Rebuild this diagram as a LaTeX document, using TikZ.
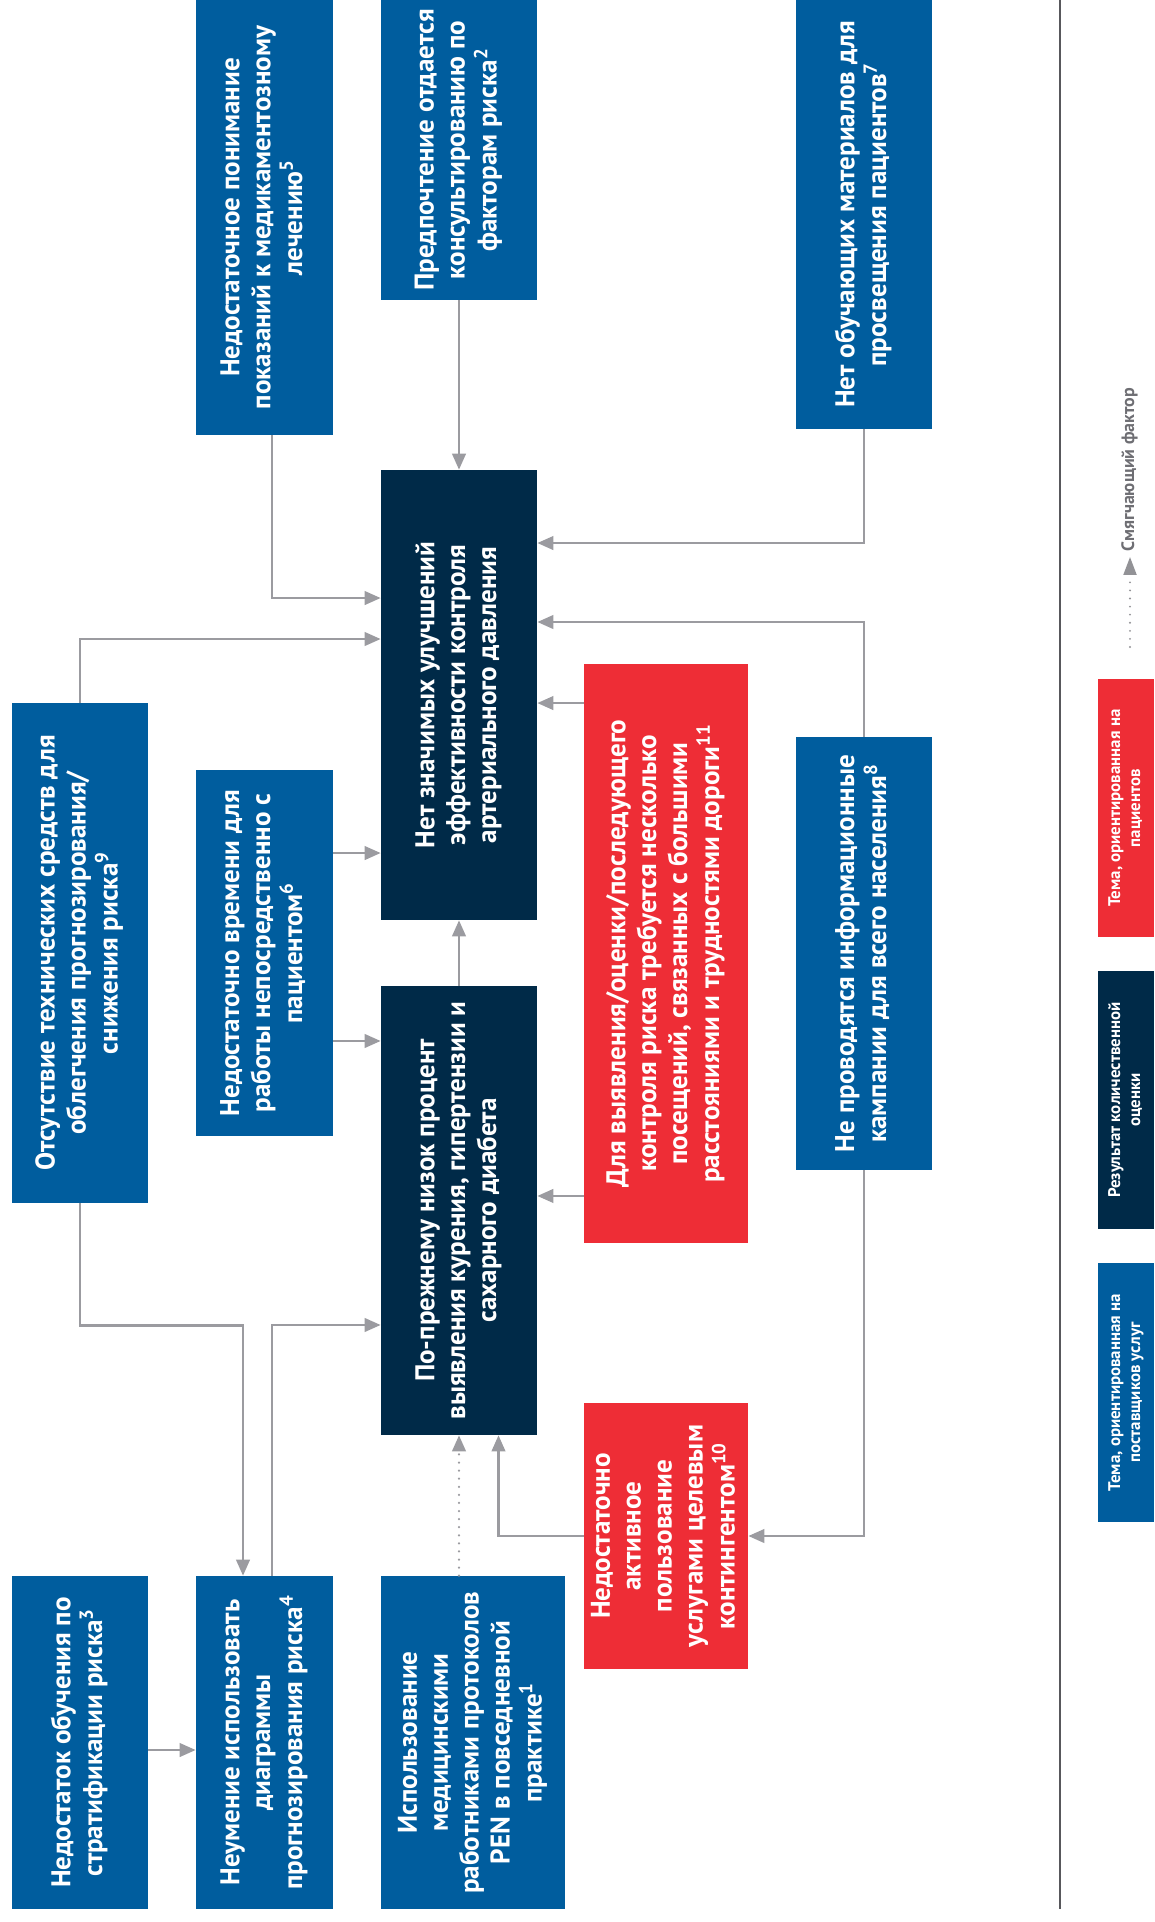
\documentclass[tikz,border=0pt]{standalone}
\usepackage{fontspec}
\usepackage{graphicx}
\setmainfont{PT Sans}
\usetikzlibrary{arrows.meta}
\definecolor{provblue}{RGB}{0,93,158}
\definecolor{resnavy}{RGB}{0,42,72}
\definecolor{patred}{RGB}{238,45,54}
\definecolor{linegray}{RGB}{155,155,160}
\definecolor{keygray}{RGB}{110,110,115}
\newcommand{\uptext}[1]{\rotatebox{90}{\begin{tabular}{@{}c@{}}#1\end{tabular}}}
\begin{document}
\begin{tikzpicture}[x=0.02cm, y=-0.02cm, >={Triangle[length=0.32cm,width=0.27cm]},
  box/.style={inner sep=0pt, text=white, font=\bfseries\fontsize{15.4}{17.6}\selectfont},
  prov/.style={box, fill=provblue},
  pat/.style={box, fill=patred},
  res/.style={box, fill=resnavy},
  keybox/.style={inner sep=0pt, text=white, minimum width=1.12cm, font=\bfseries\fontsize{9.6}{11.4}\selectfont},
  arr/.style={->, draw=linegray, line width=1.4pt},
  dotarr/.style={arr, line cap=round, dash pattern=on 0pt off 4.6pt}]
\useasboundingbox (0,0) rectangle (1154,1922);

\node[prov, minimum width=2.74cm, minimum height=8.7cm] (understanding) at (264.5,217.5)
  {\uptext{Недостаточное понимание\\ показаний к медикаментозному\\ лечению\textsuperscript{5}}};
\node[prov, minimum width=3.12cm, minimum height=6cm] (preference) at (459,150)
  {\uptext{Предпочтение отдается\\ консультированию по\\ факторам риска\textsuperscript{2}}};
\node[prov, minimum width=2.72cm, minimum height=8.58cm] (materials) at (864,214.5)
  {\uptext{Нет обучающих материалов для\\ просвещения пациентов\textsuperscript{7}}};
\node[res, minimum width=3.12cm, minimum height=9cm] (outcome) at (459,695)
  {\uptext{Нет значимых улучшений\\ эффективности контроля\\ артериального давления}};
\node[prov, minimum width=2.72cm, minimum height=10cm] (tools) at (80,953)
  {\uptext{Отсутствие технических средств для\\ облегчения прогнозирования/\\ снижения риска\textsuperscript{9}}};
\node[prov, minimum width=2.74cm, minimum height=7.32cm] (time) at (264.5,953)
  {\uptext{Недостаточно времени для\\ работы непосредственно с\\ пациентом\textsuperscript{6}}};
\node[pat, minimum width=3.28cm, minimum height=11.58cm] (visits) at (666,953.5)
  {\uptext{Для выявления/оценки/последующего\\ контроля риска требуется несколько\\ посещений, связанных с большими\\ расстояниями и трудностями дороги\textsuperscript{11}}};
\node[prov, minimum width=2.72cm, minimum height=8.66cm] (campaigns) at (864,953.5)
  {\uptext{Не проводятся информационные\\ кампании для всего населения\textsuperscript{8}}};
\node[res, minimum width=3.12cm, minimum height=8.98cm] (detection) at (459,1210.5)
  {\uptext{По-прежнему низок процент\\ выявления курения, гипертензии и\\ сахарного диабета}};
\node[pat, minimum width=3.28cm, minimum height=5.32cm] (underuse) at (666,1536)
  {\uptext{Недостаточно\\ активное\\ пользование\\ услугами целевым\\ контингентом\textsuperscript{10}}};
\node[prov, minimum width=2.72cm, minimum height=6.66cm] (training) at (80,1742.5)
  {\uptext{Недостаток обучения по\\ стратификации риска\textsuperscript{3}}};
\node[prov, minimum width=2.74cm, minimum height=6.66cm] (charts) at (264.5,1742.5)
  {\uptext{Неумение использовать\\ диаграммы\\ прогнозирования риска\textsuperscript{4}}};
\node[prov, minimum width=3.68cm, minimum height=6.66cm] (protocols) at (473,1742.5)
  {\uptext{Использование\\ медицинскими\\ работниками протоколов\\ PEN в повседневной\\ практике\textsuperscript{1}}};

\coordinate (v1) at ([yshift=5.01cm]visits.west);
\coordinate (v2) at ([yshift=-4.85cm]visits.west);
\coordinate (t1) at ([yshift=2cm]time.east);
\coordinate (t2) at ([yshift=-1.76cm]time.east);
\draw[arr] (preference.south) -- (outcome.north);
\draw[arr] ([xshift=0.15cm]understanding.south) |- ([yshift=1.94cm]outcome.west);
\draw[arr] (tools.north) |- ([yshift=1.12cm]outcome.west);
\draw[arr] (materials.south) |- ([yshift=3.04cm]outcome.east);
\draw[arr] (campaigns.north) |- ([yshift=1.46cm]outcome.east);
\draw[arr] (v1) -- (v1 -| outcome.east);
\draw[arr] (v2) -- (v2 -| detection.east);
\draw[arr] (t1) -- (t1 -| outcome.west);
\draw[arr] (t2) -- (t2 -| detection.west);
\draw[arr] (detection.north) -- (outcome.south);
\draw[arr] (tools.south) -- ++(0,-2.44cm) -| ([xshift=-0.43cm]charts.north);
\draw[arr] ([xshift=0.15cm]charts.north) |- ([yshift=-2.29cm]detection.west);
\draw[arr] ([yshift=-0.15cm]training.east) -- ([yshift=-0.15cm]charts.west);
\draw[dotarr] (protocols.north -| detection.south) -- (detection.south);
\draw[arr] (underuse.west) -| ([xshift=0.79cm]detection.south);
\draw[arr] (campaigns.south) |- (underuse.east);

\draw[keygray!80!black, line width=1pt] (1060,0) -- (1060,1909);
\node[keybox, fill=patred, minimum height=5.16cm] (keypat) at (1126,808)
  {\uptext{Тема, ориентированная на\\ пациентов}};
\node[keybox, fill=resnavy, minimum height=5.16cm] (keyres) at (1126,1100)
  {\uptext{Результат количественной\\ оценки}};
\node[keybox, fill=provblue, minimum height=5.18cm] (keyprov) at (1126,1392.5)
  {\uptext{Тема, ориентированная на\\ поставщиков услуг}};
\node[inner sep=0pt, anchor=south, text=keygray, font=\bfseries\fontsize{10.2}{12}\selectfont] (mitigate) at (1130,552)
  {\uptext{Смягчающий фактор}};
\coordinate (keytail) at (1130,647);
\draw[dotarr, line width=1.2pt, >={Triangle[length=0.36cm,width=0.26cm]}, draw=keygray!75] (keytail) -- ([yshift=-0.1cm]mitigate.south);
\end{tikzpicture}
\end{document}
